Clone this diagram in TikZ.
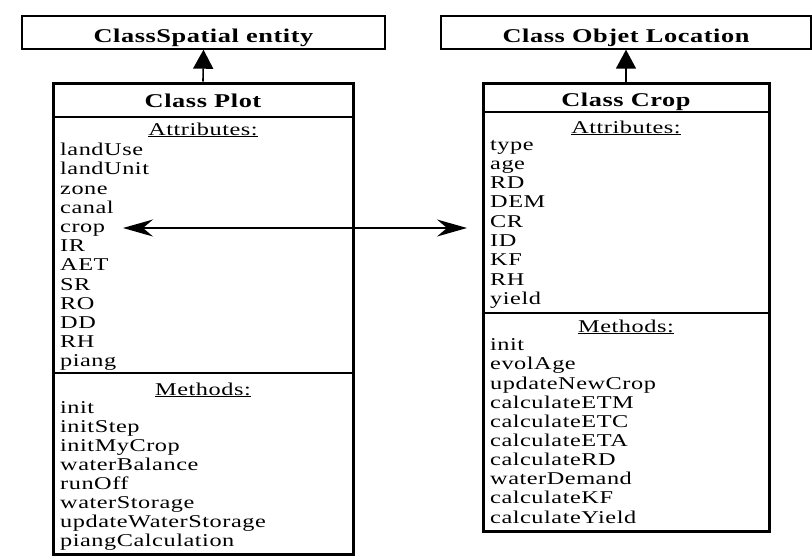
\documentclass[tikz,border=0pt]{standalone}
\usepackage{fontspec}
\setmainfont{Liberation Serif}[FakeStretch=1.35, LetterSpace=3]
\usetikzlibrary{arrows.meta}
\begin{document}
\begin{tikzpicture}[x=1pt, y=-1pt,
  topbox/.style={draw, line width=1.4pt, fill=white},
  classbox/.style={draw, line width=3pt},
  sep/.style={line width=2.4pt},
  head/.style={font=\bfseries\fontsize{19.5}{21}\selectfont, inner sep=0pt},
  item/.style={font=\fontsize{18}{20}\selectfont, anchor=base west, inner sep=0pt},
  label/.style={font=\fontsize{18}{20}\selectfont, anchor=base, inner sep=0pt},
  inherit/.style={line width=1.6pt, -{Triangle[length=19pt, width=20pt]}},
  assoc/.style={line width=1.6pt, {Stealth[length=30pt, width=17pt, inset=10pt]}-{Stealth[length=30pt, width=17pt, inset=10pt]}}
]
\useasboundingbox (0,0) rectangle (812,558);
% outer frame (runs past the page on the right and bottom)
\draw[double, line width=0.6pt, double distance=1.2pt] (10,600) -- (10,7) -- (830,7);

% parent classes
\node[topbox, minimum width=363pt, minimum height=33pt] (spatial) at (203.5,32.5) {};
\node[head, anchor=base] (spatialt) at (203.5,42) {ClassSpatial entity};
\node[topbox, minimum width=370pt, minimum height=33pt] (objet) at (626,32.5) {};
\node[head, anchor=base] (objett) at (626,42) {Class Objet Location};

% Class Plot
\node[classbox, minimum width=300pt, minimum height=471pt] (plot) at (203,318.5) {};
\draw[sep] (53,117) -- (353,117);
\draw[sep] (53,373) -- (353,373);
\node[head, anchor=base] (plott) at (203,107) {Class Plot};
\node[label] (plota) at (203,135) {\underline{Attributes:}};
\node[label] (plotm) at (203,395) {\underline{Methods:}};
\foreach \t [count=\i from 0] in {landUse,landUnit,zone,canal,crop,IR,AET,SR,RO,DD,RH,piang}
  \node[item] (pa\i) at (60,155.7+19.2*\i) {\t};
\foreach \t [count=\i from 0] in {init,initStep,initMyCrop,waterBalance,runOff,waterStorage,updateWaterStorage,piangCalculation}
  \node[item] (pm\i) at (60,413+19.1*\i) {\t};

% Class Crop
\node[classbox, minimum width=286pt, minimum height=448pt] (crop) at (626,307) {};
\draw[sep] (483,112) -- (769,112);
\draw[sep] (483,313) -- (769,313);
\node[head, anchor=base] (cropt) at (626,106) {Class Crop};
\node[label] (cropa) at (626,133) {\underline{Attributes:}};
\node[label] (cropm) at (626,332) {\underline{Methods:}};
\foreach \t [count=\i from 0] in {type,age,RD,DEM,CR,ID,KF,RH,yield}
  \node[item] (ca\i) at (490,150+19.3*\i) {\t};
\foreach \t [count=\i from 0] in {init,evolAge,updateNewCrop,calculateETM,calculateETC,calculateETA,calculateRD,waterDemand,calculateKF,calculateYield}
  \node[item] (cm\i) at (490,350.7+19.15*\i) {\t};

% connectors
\draw[inherit] (plot.north) -- (spatial.south);
\draw[inherit] (crop.north) -- (objet.south);
\coordinate (lend) at (123,228);
\coordinate (rend) at (467,228);
\draw[assoc] (lend) -- (rend);
\end{tikzpicture}
\end{document}
